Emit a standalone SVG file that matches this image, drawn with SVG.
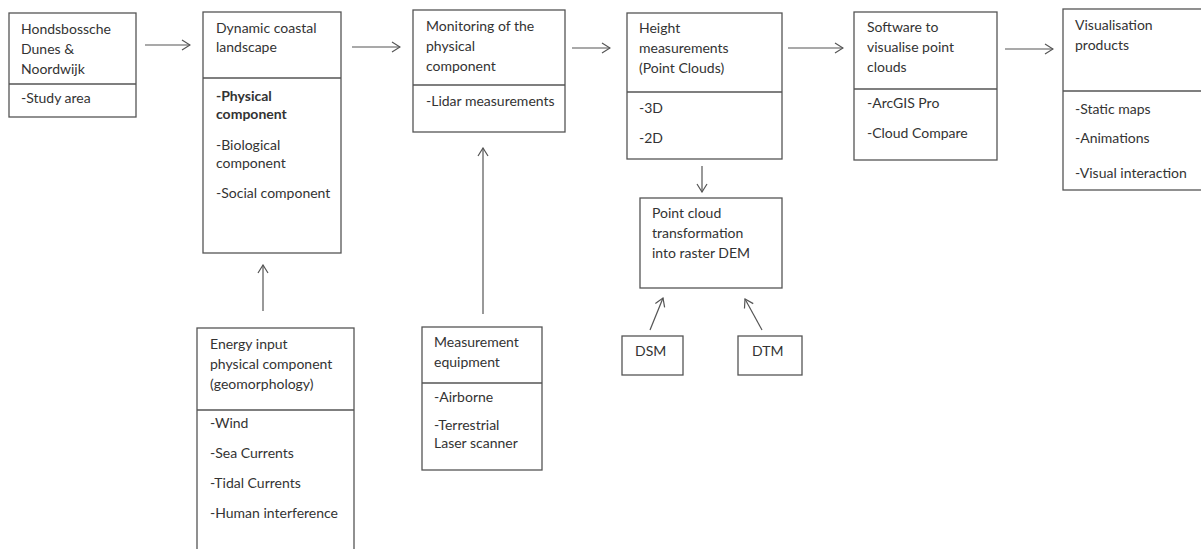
<svg xmlns="http://www.w3.org/2000/svg" width="1201" height="549" viewBox="0 0 1201 549">
<style>
.box{fill:#fff;stroke:#555;stroke-width:1.3}
.div{stroke:#555;stroke-width:1.3}
text{font-family:Lato,"Liberation Sans",sans-serif;font-size:14px;fill:#333}
.b{font-weight:bold}
.con{stroke:#555;stroke-width:1.2;fill:none;marker-end:url(#ah)}
</style>
<defs>
<marker id="ah" viewBox="0 0 10 12" refX="9" refY="6" markerWidth="10" markerHeight="12" markerUnits="userSpaceOnUse" orient="auto">
<path d="M1,1 L9,6 L1,11" fill="none" stroke="#555" stroke-width="1.2"/>
</marker>
</defs>
<rect width="1201" height="549" fill="#fff"/>
<g id="connectors">
<line class="con" x1="145" y1="45" x2="190" y2="45"/>
<line class="con" x1="352" y1="47" x2="400" y2="47"/>
<line class="con" x1="572" y1="48" x2="610" y2="48"/>
<line class="con" x1="788" y1="48" x2="843" y2="48"/>
<line class="con" x1="1005" y1="49" x2="1053" y2="49"/>
<line class="con" x1="702" y1="166" x2="702" y2="192"/>
<line class="con" x1="263" y1="311" x2="263" y2="265"/>
<line class="con" x1="483" y1="314" x2="483" y2="148"/>
<line class="con" x1="650" y1="330" x2="663" y2="298"/>
<line class="con" x1="762" y1="330" x2="745" y2="299"/>
</g>
<g id="hondsbossche">
<rect class="box" x="9" y="13" width="127" height="104"/>
<line class="div" x1="9" y1="84" x2="136" y2="84"/>
<text x="21" y="34">Hondsbossche</text>
<text x="21" y="54">Dunes &amp;</text>
<text x="21" y="74">Noordwijk</text>
<text x="21" y="103">-Study area</text>
</g>
<g id="dynamic">
<rect class="box" x="203" y="12" width="138" height="241"/>
<line class="div" x1="203" y1="78" x2="341" y2="78"/>
<text x="216" y="33">Dynamic coastal</text>
<text x="216" y="52">landscape</text>
<text class="b" x="216" y="101">-Physical</text>
<text class="b" x="216" y="119">component</text>
<text x="216" y="150">-Biological</text>
<text x="216" y="168">component</text>
<text x="216" y="198">-Social component</text>
</g>
<g id="monitoring">
<rect class="box" x="413" y="10" width="152" height="122"/>
<line class="div" x1="413" y1="85" x2="565" y2="85"/>
<text x="426" y="31">Monitoring of the</text>
<text x="426" y="51">physical</text>
<text x="426" y="71">component</text>
<text x="426" y="106">-Lidar measurements</text>
</g>
<g id="height">
<rect class="box" x="627" y="13" width="155" height="146"/>
<line class="div" x1="627" y1="92" x2="782" y2="92"/>
<text x="639" y="33">Height</text>
<text x="639" y="53">measurements</text>
<text x="639" y="73">(Point Clouds)</text>
<text x="639" y="113">-3D</text>
<text x="639" y="143">-2D</text>
</g>
<g id="pointcloud">
<rect class="box" x="640" y="198" width="142" height="90"/>
<text x="652" y="218">Point cloud</text>
<text x="652" y="238">transformation</text>
<text x="652" y="258">into raster DEM</text>
</g>
<g id="dsm">
<rect class="box" x="622" y="336" width="61" height="39"/>
<text x="635" y="356">DSM</text>
</g>
<g id="dtm">
<rect class="box" x="738" y="336" width="64" height="39"/>
<text x="752" y="356">DTM</text>
</g>
<g id="software">
<rect class="box" x="854" y="12" width="143" height="148"/>
<line class="div" x1="854" y1="89" x2="997" y2="89"/>
<text x="867" y="32">Software to</text>
<text x="867" y="52">visualise point</text>
<text x="867" y="72">clouds</text>
<text x="867" y="108">-ArcGIS Pro</text>
<text x="867" y="138">-Cloud Compare</text>
</g>
<g id="visualisation">
<rect class="box" x="1063" y="9" width="150" height="181"/>
<line class="div" x1="1063" y1="91" x2="1213" y2="91"/>
<text x="1075" y="30">Visualisation</text>
<text x="1075" y="50">products</text>
<text x="1075" y="114">-Static maps</text>
<text x="1075" y="143">-Animations</text>
<text x="1075" y="178">-Visual interaction</text>
</g>
<g id="energy">
<rect class="box" x="197" y="328" width="157" height="240"/>
<line class="div" x1="197" y1="410" x2="354" y2="410"/>
<text x="210" y="349">Energy input</text>
<text x="210" y="369">physical component</text>
<text x="210" y="389">(geomorphology)</text>
<text x="210" y="428">-Wind</text>
<text x="210" y="458">-Sea Currents</text>
<text x="210" y="488">-Tidal Currents</text>
<text x="210" y="518">-Human interference</text>
</g>
<g id="equipment">
<rect class="box" x="422" y="327" width="120" height="143"/>
<line class="div" x1="422" y1="383" x2="542" y2="383"/>
<text x="434" y="347">Measurement</text>
<text x="434" y="367">equipment</text>
<text x="434" y="402">-Airborne</text>
<text x="434" y="430">-Terrestrial</text>
<text x="434" y="448">Laser scanner</text>
</g>
</svg>
